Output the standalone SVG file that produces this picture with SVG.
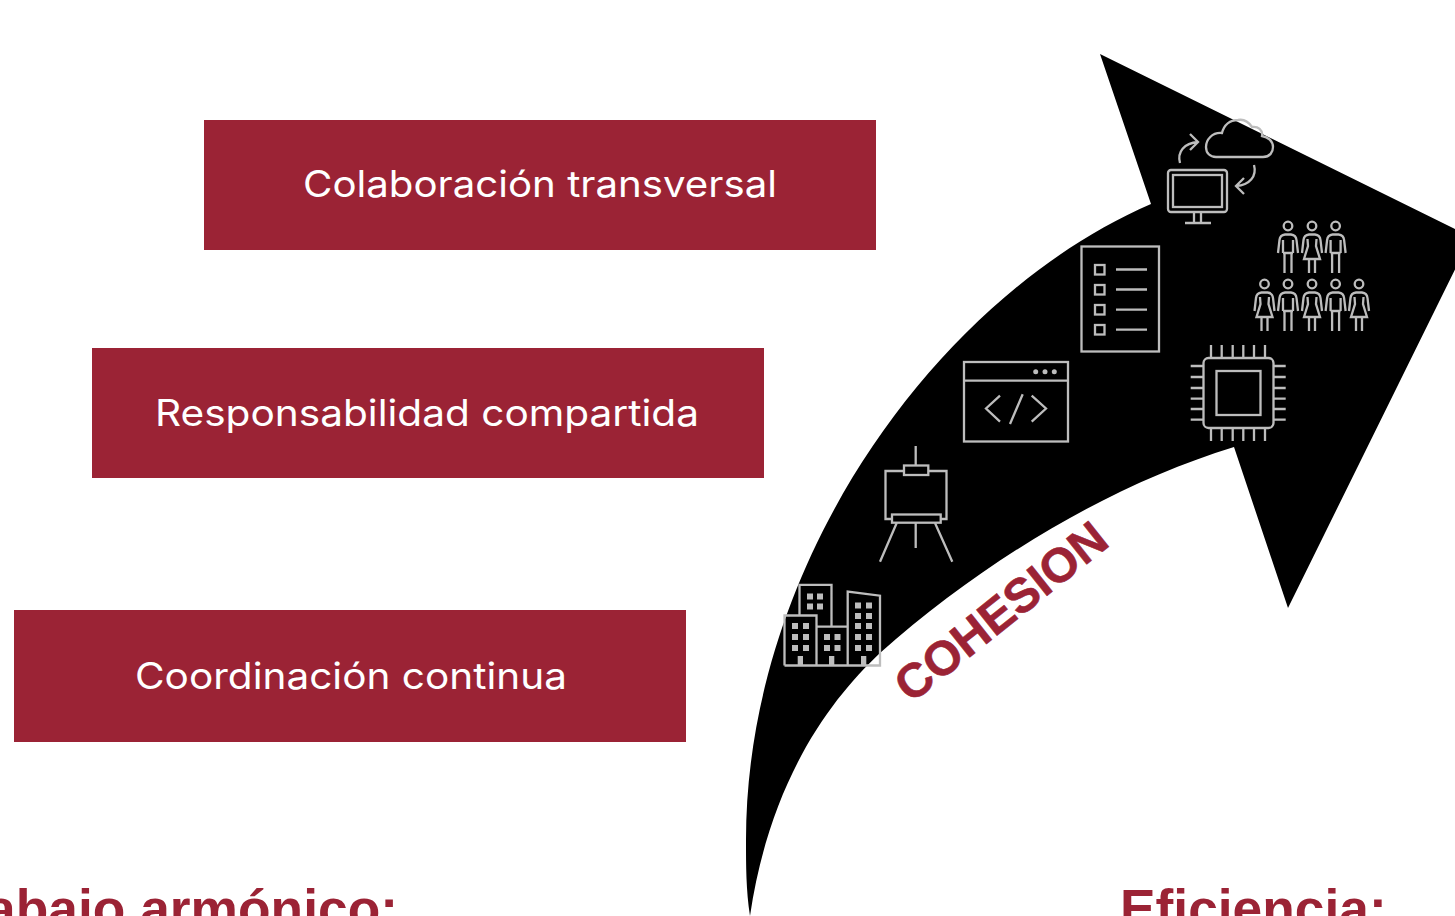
<svg xmlns="http://www.w3.org/2000/svg" width="1455" height="916" viewBox="0 0 1455 916">
<style>
.box{fill:#9B2335}
.lbl{font-family:"Inter","Noto Sans",sans-serif;font-size:36.500px;fill:#fff}
.head{font-family:"Liberation Sans",Arial,sans-serif;font-weight:700;fill:#9B2335}
.ic{fill:none;stroke:#BDBDBD;stroke-width:2.300}
.wf{fill:#BDBDBD;stroke:none}
</style>
<defs>
<g id="man" class="ic"><circle cx="0" cy="0" r="4.300"/><path d="M-10 27L-8.500 14Q-8 9 -3 8.500H3Q8 9 8.500 14L10 27M-5 14V27M5 14V27M-3.500 27V47M3.500 27V47M-5 27H5"/></g>
<g id="woman" class="ic"><circle cx="0" cy="0" r="4.300"/><path d="M-10 27L-8.500 14Q-8 9 -3 8.500H3Q8 9 8.500 14L10 27M-4.500 13L-4 20L-8 33H8L4 20L4.500 13M-3 33V47M3 33V47"/></g>
</defs>
<g id="arrow"><path fill="#000" d="M750 916C746 890 746 865 746 840C746 560 940 295 1151 204L1100 54L1471 237L1288 608L1234 447C1110 485 985 560 880 653C830 700 770 780 750 916Z"/></g>
<g id="node-colaboracion"><rect class="box" x="204" y="120" width="672" height="130"/><text class="lbl" x="303" y="196.500" textLength="474" lengthAdjust="spacingAndGlyphs">Colaboración transversal</text></g>
<g id="node-responsabilidad"><rect class="box" x="92" y="348" width="672" height="130"/><text class="lbl" x="155" y="425.500" textLength="544" lengthAdjust="spacingAndGlyphs">Responsabilidad compartida</text></g>
<g id="node-coordinacion"><rect class="box" x="14" y="610" width="672" height="132"/><text class="lbl" x="135" y="688.500" textLength="432" lengthAdjust="spacingAndGlyphs">Coordinación continua</text></g>
<g id="icon-cloud" class="ic">
<path d="M1216 157H1263C1270 157 1273 152 1273 147C1273 141 1268 137 1262 136C1263 130 1258 126 1252 127C1248 121 1243 119 1238 120C1230 120 1224 125 1222 133C1212 132 1206 140 1206 147C1206 153 1210 157 1216 157Z"/>
<path d="M1180 163C1177 152 1184 143 1198 142M1190 134L1198 142L1190 150"/>
<path d="M1254 165C1257 176 1250 185 1236 186M1244 178L1236 186L1244 194"/>
<rect x="1168" y="170" width="59" height="42" rx="3"/><rect x="1173" y="175" width="49" height="32"/>
<path d="M1194 212V223M1201 212V223M1185 223H1211"/>
</g>
<g id="icon-people">
<use href="#man" x="1288" y="226"/><use href="#woman" x="1312" y="226"/><use href="#man" x="1335.600" y="226"/>
<use href="#woman" x="1264.500" y="284"/><use href="#man" x="1288" y="284"/><use href="#woman" x="1312" y="284"/><use href="#man" x="1335.600" y="284"/><use href="#woman" x="1359" y="284"/>
</g>
<g id="icon-checklist" class="ic">
<rect x="1081.500" y="246.500" width="77.500" height="105"/>
<rect x="1095" y="265" width="9.500" height="9.500"/><rect x="1095" y="285" width="9.500" height="9.500"/><rect x="1095" y="305" width="9.500" height="9.500"/><rect x="1095" y="325" width="9.500" height="9.500"/>
<path d="M1116 269.500H1147M1116 289.500H1147M1116 309.700H1147M1116 329.700H1147"/>
</g>
<g id="icon-code" class="ic">
<rect x="964" y="362" width="104" height="79.500"/><path d="M964 380.700H1068"/>
<path d="M1000 395.700L986 408.500L1000 421.700M1022.700 394.300L1010 424M1031.700 395.700L1046 408.500L1031.700 421.700"/>
<circle class="wf" cx="1035.700" cy="371.700" r="2.500"/><circle class="wf" cx="1045" cy="371.700" r="2.500"/><circle class="wf" cx="1054.300" cy="371.700" r="2.500"/>
</g>
<g id="icon-chip" class="ic">
<rect x="1203.500" y="358" width="70" height="70" rx="5"/><rect x="1216.500" y="371" width="44" height="44"/>
<path d="M1211 345V358M1221.700 345V358M1232.700 345V358M1243.300 345V358M1254 345V358M1265 345V358M1211 428V441M1221.700 428V441M1232.700 428V441M1243.300 428V441M1254 428V441M1265 428V441M1190.700 366H1203.500M1190.700 377H1203.500M1190.700 388H1203.500M1190.700 398.700H1203.500M1190.700 409H1203.500M1190.700 419.700H1203.500M1273.500 366H1285.700M1273.500 377H1285.700M1273.500 388H1285.700M1273.500 398.700H1285.700M1273.500 409H1285.700M1273.500 419.700H1285.700"/>
</g>
<g id="icon-easel" class="ic">
<path d="M915.700 446V465M915.700 523V548M896.700 523L880 561.700M935 523L952.300 561.700"/>
<rect x="904" y="465.500" width="24.300" height="9.500"/>
<path d="M904 471H885.500V519H892M928.300 471H946.500V519H940.500"/>
<rect x="892" y="514.500" width="48.700" height="8.200"/>
</g>
<g id="icon-buildings">
<path class="ic" d="M784.500 665.500V615.500H816.500V665.500M799.500 615.500V584.800H831.500V626.700M816.500 626.700H847.700V665.500M847.700 626.700V591.500L880 595.700V665.500H784.500"/>
<g class="wf">
<rect x="807" y="593.500" width="6" height="6"/><rect x="817" y="593.500" width="6" height="6"/><rect x="807" y="603.500" width="6" height="6"/><rect x="817" y="603.500" width="6" height="6"/>
<rect x="792" y="623" width="6" height="6"/><rect x="803" y="623" width="6" height="6"/><rect x="792" y="634" width="6" height="6"/><rect x="803" y="634" width="6" height="6"/><rect x="792" y="645" width="6" height="6"/><rect x="803" y="645" width="6" height="6"/>
<rect x="824" y="634" width="6" height="6"/><rect x="834.500" y="634" width="6" height="6"/><rect x="824" y="645" width="6" height="6"/><rect x="834.500" y="645" width="6" height="6"/>
<rect x="855" y="602.500" width="6" height="6"/><rect x="866" y="602.500" width="6" height="6"/><rect x="855" y="613" width="6" height="6"/><rect x="866" y="613" width="6" height="6"/><rect x="855" y="623" width="6" height="6"/><rect x="866" y="623" width="6" height="6"/><rect x="855" y="634" width="6" height="6"/><rect x="866" y="634" width="6" height="6"/><rect x="855" y="645" width="6" height="6"/><rect x="866" y="645" width="6" height="6"/>
<rect x="797.700" y="656" width="5.300" height="9"/><rect x="829" y="656" width="5.300" height="9"/><rect x="861" y="656" width="5.300" height="9"/>
</g>
</g>
<text class="head" font-size="48" stroke="#9B2335" stroke-width="0.600" transform="translate(911 704) rotate(-38.500)">COHESION</text>
<text class="head" font-size="53.330" x="398" y="926.500" text-anchor="end">Trabajo armónico:</text>
<text class="head" font-size="53.330" x="1120" y="926.500">Eficiencia:</text>
</svg>
